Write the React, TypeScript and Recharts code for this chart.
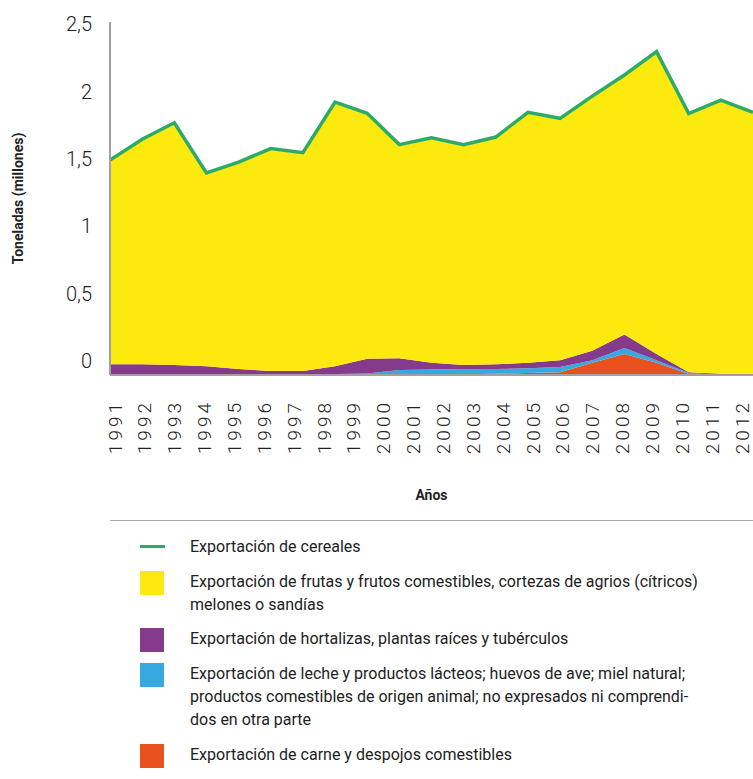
import React from "react";
import { AreaChart, Area, XAxis, YAxis } from "recharts";

// Etiquetas del eje X (22 años) y serie de 21 puntos tal como aparecen en el gráfico
const years = [
  "1991", "1992", "1993", "1994", "1995", "1996", "1997", "1998", "1999", "2000", "2001",
  "2002", "2003", "2004", "2005", "2006", "2007", "2008", "2009", "2010", "2011", "2012",
];

// millones de toneladas, de abajo hacia arriba en la pila
const carne = [0, 0, 0, 0, 0, 0, 0, 0, 0, 0, 0.003, 0.005, 0.01, 0.015, 0.02, 0.09, 0.155, 0.09, 0.008, 0, 0];
const leche = [0.003, 0.003, 0.003, 0.003, 0.003, 0.003, 0.005, 0.008, 0.012, 0.037, 0.037, 0.04, 0.035, 0.035, 0.04, 0.02, 0.045, 0.02, 0.007, 0.004, 0.002];
const hortalizas = [0.077, 0.077, 0.072, 0.062, 0.042, 0.027, 0.025, 0.057, 0.108, 0.088, 0.05, 0.03, 0.035, 0.04, 0.05, 0.07, 0.1, 0.045, 0.005, 0.006, 0.003];
const frutas = [1.505, 1.66, 1.785, 1.425, 1.525, 1.64, 1.61, 1.95, 1.81, 1.575, 1.66, 1.625, 1.675, 1.85, 1.785, 1.88, 1.915, 2.235, 1.91, 2.02, 1.935];
const cereales = [0.01, 0.01, 0.012, 0.01, 0.01, 0.011, 0.01, 0.01, 0.012, 0.01, 0.01, 0.01, 0.011, 0.01, 0.01, 0.01, 0.012, 0.01, 0.01, 0.01, 0.01];

const yTicks = [0, 0.5, 1, 1.5, 2, 2.5];

const COLORS = {
  cereales: "#2daa68",
  frutas: "#fcea0e",
  hortalizas: "#853a8c",
  leche: "#37a9e1",
  carne: "#e8501e",
};

const data = frutas.map((_, i) => ({
  i,
  carne: carne[i],
  leche: leche[i],
  hortalizas: hortalizas[i],
  frutas: frutas[i],
  cereales: cereales[i],
}));

const FONT = "Roboto, 'Noto Sans', sans-serif";

const YTick = ({ x, y, payload }: any) => (
  <text
    x={x}
    y={y - 14}
    textAnchor="end"
    dominantBaseline="central"
    fontFamily={FONT}
    fontWeight={300}
    fontSize={20}
    fill="#222"
  >
    {String(payload.value).replace(".", ",")}
  </text>
);

const YearTick = ({ x, y, payload }: any) => (
  <text
    x={x}
    y={y}
    transform={`rotate(-90 ${x} ${y})`}
    textAnchor="end"
    dominantBaseline="central"
    fontFamily={FONT}
    fontWeight={300}
    fontSize={19}
    letterSpacing={3}
    fill="#222"
  >
    {years[payload.value]}
  </text>
);

const legendItems = [
  { key: "cereales", lines: ["Exportación de cereales"], line: true, top: 535 },
  {
    key: "frutas",
    lines: [
      "Exportación de frutas y frutos comestibles, cortezas de agrios (cítricos)",
      "melones o sandías",
    ],
    top: 570,
  },
  { key: "hortalizas", lines: ["Exportación de hortalizas, plantas raíces y tubérculos"], top: 627 },
  {
    key: "leche",
    lines: [
      "Exportación de leche y productos lácteos; huevos de ave; miel natural;",
      "productos comestibles de origen animal; no expresados ni comprendi-",
      "dos en otra parte",
    ],
    top: 662,
  },
  { key: "carne", lines: ["Exportación de carne y despojos comestibles"], top: 743 },
];

export default function App() {
  return (
    <div
      style={{
        position: "absolute",
        left: 0,
        top: 0,
        width: 753,
        height: 779,
        background: "#fff",
        fontFamily: FONT,
        color: "#222",
      }}
    >
      <AreaChart width={753} height={520} data={data} margin={{ top: 22, right: 0, bottom: 0, left: 0 }}>
        <XAxis xAxisId="data" dataKey="i" type="number" domain={[0, 20]} height={0} hide />
        <XAxis
          xAxisId="years"
          dataKey="i"
          type="number"
          domain={[-0.1675, 21.368]}
          allowDataOverflow
          ticks={years.map((_, k) => k)}
          interval={0}
          height={145}
          tick={<YearTick />}
          tickLine={false}
          tickSize={0}
          tickMargin={25}
          axisLine={{ stroke: "#a0a0a0", strokeWidth: 2 }}
          label={{
            value: "Años",
            position: "insideBottom",
            offset: 20,
            style: { fontFamily: FONT, fontWeight: 700, fontSize: 14, fill: "#222" },
          }}
        />
        <YAxis
          width={110}
          domain={[0, 2.62]}
          ticks={yTicks}
          interval={0}
          tick={<YTick />}
          tickLine={false}
          tickSize={0}
          tickMargin={18}
          axisLine={{ stroke: "#a0a0a0", strokeWidth: 2 }}
          label={{
            value: "Toneladas (millones)",
            angle: -90,
            position: "insideLeft",
            offset: 18,
            style: { textAnchor: "middle", fontFamily: FONT, fontWeight: 700, fontSize: 14, fill: "#222" },
          }}
        />
        <Area xAxisId="data" type="linear" dataKey="carne" stackId="a" fill={COLORS.carne} fillOpacity={1} stroke="none" isAnimationActive={false} />
        <Area xAxisId="data" type="linear" dataKey="leche" stackId="a" fill={COLORS.leche} fillOpacity={1} stroke="none" isAnimationActive={false} />
        <Area xAxisId="data" type="linear" dataKey="hortalizas" stackId="a" fill={COLORS.hortalizas} fillOpacity={1} stroke="none" isAnimationActive={false} />
        <Area xAxisId="data" type="linear" dataKey="frutas" stackId="a" fill={COLORS.frutas} fillOpacity={1} stroke="none" isAnimationActive={false} />
        <Area
          xAxisId="data"
          type="linear"
          dataKey="cereales"
          stackId="a"
          fill="none"
          stroke={COLORS.cereales}
          strokeWidth={3.5}
          dot={false}
          isAnimationActive={false}
        />
      </AreaChart>

      <div
        style={{
          position: "absolute",
          left: 110,
          top: 520,
          width: 643,
          borderTop: "1.5px solid #a8a8a8",
        }}
      />
      {legendItems.map((item) => (
        <React.Fragment key={item.key}>
          {item.line ? (
            <div
              style={{
                position: "absolute",
                left: 140,
                top: item.top + 10,
                width: 25,
                height: 3,
                background: COLORS[item.key as keyof typeof COLORS],
              }}
            />
          ) : (
            <div
              style={{
                position: "absolute",
                left: 140,
                top: item.top + 1,
                width: 24,
                height: 24,
                background: COLORS[item.key as keyof typeof COLORS],
              }}
            />
          )}
          <div
            style={{
              position: "absolute",
              left: 190,
              top: item.top,
              fontSize: 16,
              lineHeight: "23px",
              whiteSpace: "nowrap",
            }}
          >
            {item.lines.map((l, k) => (
              <div key={k}>{l}</div>
            ))}
          </div>
        </React.Fragment>
      ))}
    </div>
  );
}
